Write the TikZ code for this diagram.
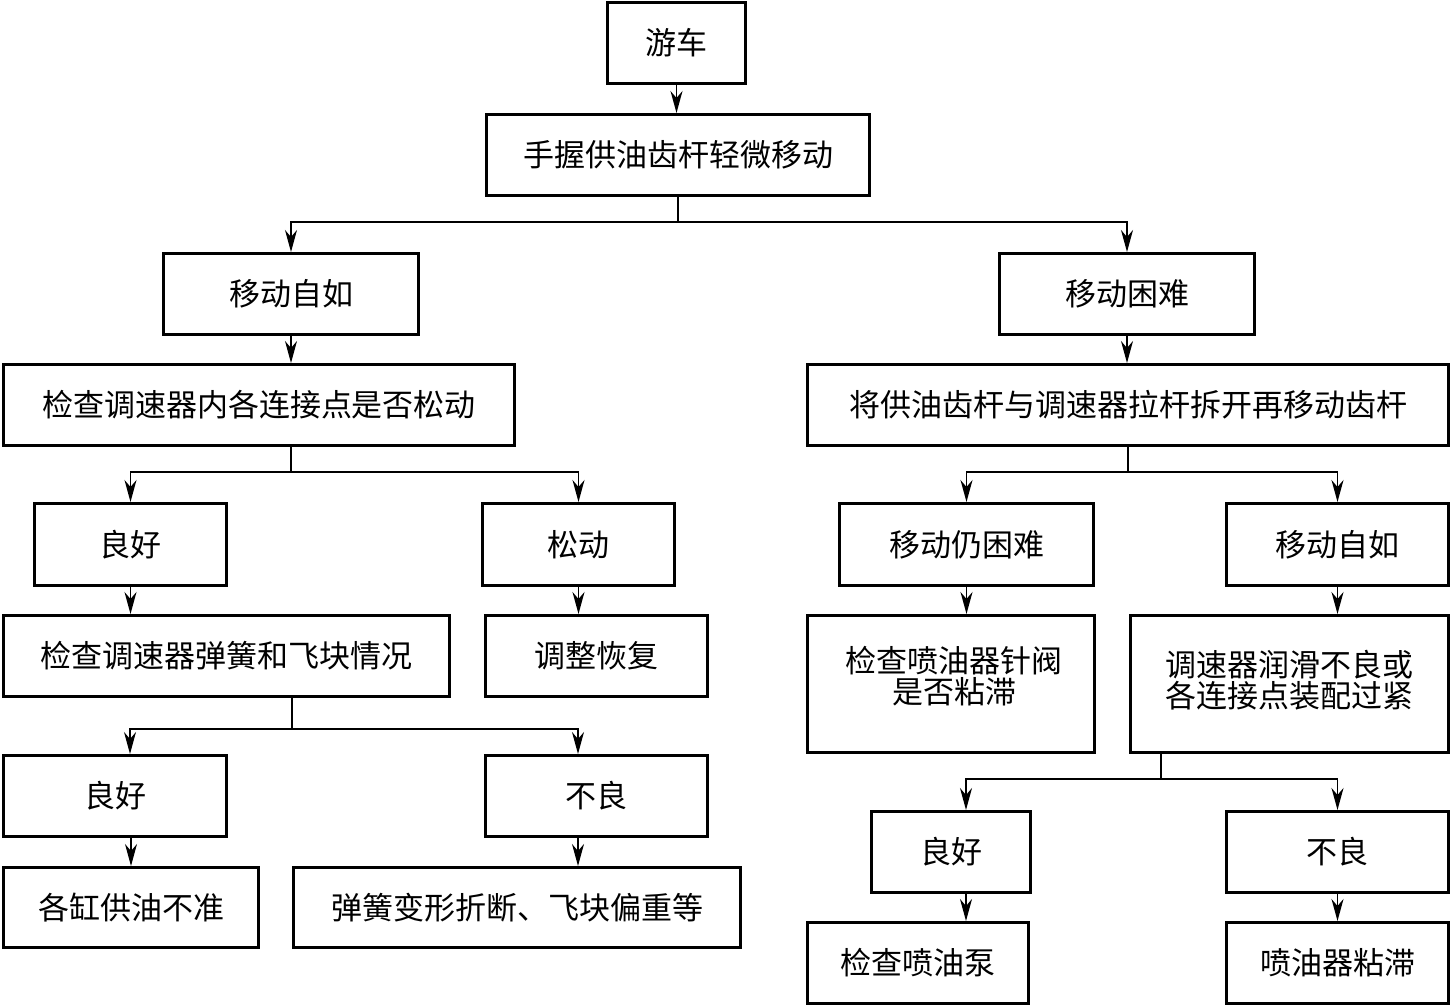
\documentclass[tikz,border=0pt]{standalone}
\usepackage{fontspec}
\newfontfamily\cjk{Noto Sans CJK SC}
\usetikzlibrary{arrows.meta}
\begin{document}
\begin{tikzpicture}[x=1pt, y=-1pt]
      \tikzstyle{every node} = [inner sep = 0pt, align=center, font=\cjk\fontsize{31}{35}\selectfont];
      \tikzstyle{box} = [draw, line width=3pt];
      \tikzstyle{link} = [line width=1.5pt, -{Stealth[length=22pt, width=12pt, inset=7pt]}];
      \useasboundingbox (0,0) rectangle (1452,1008);
      % top
      \node(yc) [box, minimum width=138pt, minimum height=81pt] at (676.5,43) {游车};
      \node(ws) [box, minimum width=383pt, minimum height=81pt] at (678,155) {手握供油齿杆轻微移动};
      \node(zr1) [box, minimum width=255pt, minimum height=81pt] at (291,294) {移动自如};
      \node(kn) [box, minimum width=255pt, minimum height=81pt] at (1127,294) {移动困难};
      \node(jc1) [box, minimum width=511pt, minimum height=81pt] at (259,405) {检查调速器内各连接点是否松动};
      \node(jg) [box, minimum width=641pt, minimum height=81pt] at (1128,405) {将供油齿杆与调速器拉杆拆开再移动齿杆};
      % middle
      \node(lh1) [box, minimum width=192pt, minimum height=82pt] at (130.5,544.5) {良好};
      \node(sd) [box, minimum width=192pt, minimum height=82pt] at (578.5,544.5) {松动};
      \node(rkn) [box, minimum width=254pt, minimum height=82pt] at (966.5,544.5) {移动仍困难};
      \node(zr2) [box, minimum width=222pt, minimum height=82pt] at (1337.5,544.5) {移动自如};
      \node(jc2) [box, minimum width=446pt, minimum height=81pt] at (226.5,656) {检查调速器弹簧和飞块情况};
      \node(tz) [box, minimum width=222pt, minimum height=81pt] at (596.5,656) {调整恢复};
      \node(jc3) [box, minimum width=287pt, minimum height=137pt] at (951,684) {};
      \node(jc3t) at (954,676) {检查喷油器针阀\\[-4pt]是否粘滞};
      \node(rh) [box, minimum width=318pt, minimum height=137pt] at (1289.5,684) {};
      \node(rht) at (1289.5,680) {调速器润滑不良或\\[-4pt]各连接点装配过紧};
      % bottom
      \node(lh2) [box, minimum width=223pt, minimum height=81pt] at (115,796) {良好};
      \node(bl1) [box, minimum width=222pt, minimum height=81pt] at (596.5,796) {不良};
      \node(gg) [box, minimum width=255pt, minimum height=80pt] at (131,907.5) {各缸供油不准};
      \node(th) [box, minimum width=447pt, minimum height=80pt] at (517,907.5) {弹簧变形折断、飞块偏重等};
      \node(lh3) [box, minimum width=159pt, minimum height=81pt] at (951,852) {良好};
      \node(bl2) [box, minimum width=222pt, minimum height=81pt] at (1337.5,852) {不良};
      \node(jb) [box, minimum width=221pt, minimum height=81pt] at (918,963) {检查喷油泵};
      \node(zz) [box, minimum width=222pt, minimum height=81pt] at (1337.5,963) {喷油器粘滞};
      % straight arrows
      \foreach \a/\b in {yc/ws, zr1/jc1, kn/jg, lh1/jc2, sd/tz, rkn/jc3, zr2/rh, bl2/zz}{
        \draw[link] (\a.south) -- (\a.south |- \b.north);
      }
      \draw[link] (gg.north |- lh2.south) -- (gg.north);
      \draw[link] ([xshift=-18.5pt]bl1.south) -- ([xshift=-18.5pt]bl1.south |- th.north);
      \draw[link] ([xshift=15pt]lh3.south) -- ([xshift=15pt]lh3.south |- jb.north);
      % branches
      \coordinate (j1) at (678,222);
      \coordinate (j2) at (291,472);
      \coordinate (j3) at (1128,472);
      \coordinate (j4) at (292,729);
      \coordinate (j5) at (1161,779);
      \draw[line width=1.5pt] (ws.south -| j1) -- (j1);
      \draw[link] (j1) -| (zr1.north);
      \draw[link] (j1) -| (kn.north);
      \draw[line width=1.5pt] (jc1.south -| j2) -- (j2);
      \draw[link] (j2) -| (lh1.north);
      \draw[link] (j2) -| (sd.north);
      \draw[line width=1.5pt] (jg.south -| j3) -- (j3);
      \draw[link] (j3) -| (rkn.north);
      \draw[link] (j3) -| (zr2.north);
      \draw[line width=1.5pt] (jc2.south -| j4) -- (j4);
      \draw[link] (j4) -| ([xshift=15pt]lh2.north);
      \draw[link] (j4) -| ([xshift=-18.5pt]bl1.north);
      \draw[line width=1.5pt] (rh.south -| j5) -- (j5);
      \draw[link] (j5) -| ([xshift=15pt]lh3.north);
      \draw[link] (j5) -| (bl2.north);
    \end{tikzpicture}
\end{document}
